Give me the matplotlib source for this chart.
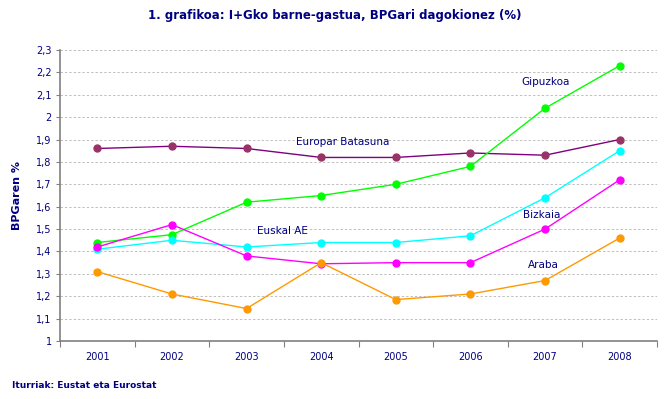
import matplotlib
matplotlib.use("Agg")
import matplotlib.pyplot as plt
from matplotlib.ticker import FixedLocator, NullFormatter

years = ["2001", "2002", "2003", "2004", "2005", "2006", "2007", "2008"]
eu = [1.86, 1.87, 1.86, 1.82, 1.82, 1.84, 1.83, 1.90]
gipuzkoa = [1.44, 1.475, 1.62, 1.65, 1.70, 1.78, 2.04, 2.23]
euskal_ae = [1.41, 1.45, 1.42, 1.44, 1.44, 1.47, 1.64, 1.85]
bizkaia = [1.42, 1.52, 1.38, 1.345, 1.35, 1.35, 1.50, 1.72]
araba = [1.31, 1.21, 1.145, 1.35, 1.185, 1.21, 1.27, 1.46]
yticks = [1.0, 1.1, 1.2, 1.3, 1.4, 1.5, 1.6, 1.7, 1.8, 1.9, 2.0, 2.1, 2.2, 2.3]
ytick_labels = ["1", "1,1", "1,2", "1,3", "1,4", "1,5", "1,6", "1,7", "1,8", "1,9", "2", "2,1", "2,2", "2,3"]

navy = "#000080"
fig = plt.figure(figsize=(6.71, 3.99), dpi=100)
ax = fig.add_axes([60/671, (399-341)/399, (657-60)/671, (341-50)/399])

x = list(range(len(years)))
series = [
    (eu, "#800080", "#993366"),
    (gipuzkoa, "#00FF00", "#00FF00"),
    (euskal_ae, "#00FFFF", "#00FFFF"),
    (bizkaia, "#FF00FF", "#FF00FF"),
    (araba, "#FF9900", "#FF9900"),
]
for vals, lc, mc in series:
    ax.plot(x, vals, color=lc, lw=1.0, marker="o", ms=5, mfc=mc, mec=mc, zorder=3)

ax.set_xlim(-0.5, len(years) - 0.5)
ax.set_ylim(1.0, 2.3)
ax.set_yticks(yticks)
ax.set_yticklabels(ytick_labels, fontsize=7, color=navy)
ax.xaxis.set_major_locator(FixedLocator([i - 0.5 for i in range(len(years) + 1)]))
ax.xaxis.set_major_formatter(NullFormatter())
ax.xaxis.set_minor_locator(FixedLocator(x))
ax.set_xticklabels(years, minor=True, fontsize=7, color=navy)
ax.tick_params(axis="x", which="minor", length=0, pad=8)
ax.tick_params(axis="x", which="major", length=4, color="#808080", direction="out")
ax.tick_params(axis="y", length=3, color="#808080", direction="out", pad=3)

ax.grid(axis="y", linestyle=(0, (2.5, 2)), color="#c0c0c0", lw=0.7)
ax.set_axisbelow(True)
for s in ["top", "right"]:
    ax.spines[s].set_visible(False)
for s in ["left", "bottom"]:
    ax.spines[s].set_color("#808080")
    ax.spines[s].set_linewidth(1.2)

ax.set_ylabel("BPGaren %", fontsize=8, fontweight="bold", color=navy, labelpad=10)

def dtext(px, py, s):
    fig.text(px/671, 1 - py/399, s, fontsize=7.5, color=navy, ha="center", va="center")

dtext(343, 142, "Europar Batasuna")
dtext(546, 82, "Gipuzkoa")
dtext(282, 231, "Euskal AE")
dtext(542, 215, "Bizkaia")
dtext(543, 265, "Araba")

fig.text(335/671, 1 - 15/399, "1. grafikoa: I+Gko barne-gastua, BPGari dagokionez (%)",
         fontsize=8.5, fontweight="bold", color=navy, ha="center", va="center")
fig.text(12/671, 1 - 386/399, "Iturriak: Eustat eta Eurostat", fontsize=6.5,
         fontweight="bold", color=navy, ha="left", va="center")

fig.savefig("out.png", dpi=100, facecolor="white")
